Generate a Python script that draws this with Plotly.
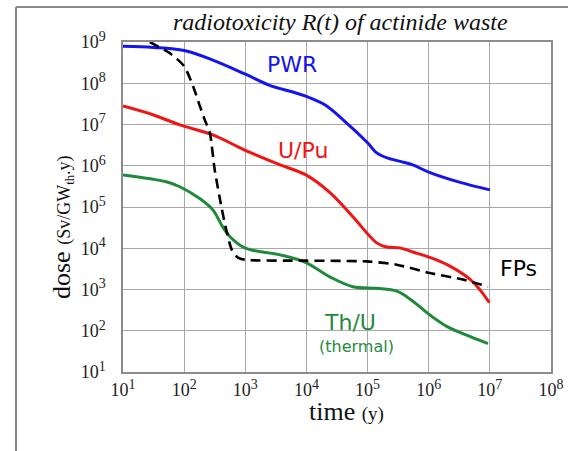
import plotly.graph_objects as go

# time (years) and dose (Sv/GWth.y)
pwr_t = [10, 31.6, 100, 316, 1000, 2510, 5620, 1e4, 2e4, 3.98e4, 1e5, 1.41e5, 2.09e5, 3.55e5, 5.5e5, 1e6, 3.16e6, 1e7]
pwr_d = [7.9e8, 7.4e8, 6.2e8, 3.5e8, 1.66e8, 8.9e7, 6.3e7, 4.8e7, 3.0e7, 1.3e7, 3.6e6, 2.05e6, 1.55e6, 1.26e6, 1.05e6, 7.0e5, 4.0e5, 2.6e5]

upu_t = [10, 31.6, 85, 295, 980, 3720, 9800, 2.45e4, 5.75e4, 1.41e5, 2.04e5, 3.39e5, 5.5e5, 9.8e5, 2.0e6, 4.8e6, 6.9e6, 9.8e6]
upu_d = [2.8e7, 1.7e7, 9.8e6, 5.6e6, 2.4e6, 1.05e6, 6.0e5, 2.2e5, 5.8e4, 1.35e4, 1.07e4, 1.02e4, 8.1e3, 6.2e3, 4.0e3, 1.74e3, 9.8e2, 4.8e2]

thu_t = [10, 51, 85, 182, 295, 427, 562, 980, 3720, 9800, 2.45e4, 5.75e4, 1.41e5, 3.02e5, 5.5e5, 1.05e6, 2.0e6, 4.8e6, 9.3e6]
thu_d = [6.0e5, 4.1e5, 3.1e5, 1.58e5, 8.5e4, 3.3e4, 1.9e4, 1.02e4, 6.9e3, 4.5e3, 2.0e3, 1.17e3, 1.07e3, 9.1e2, 5.2e2, 2.4e2, 1.26e2, 7.2e1, 4.9e1]

fps_t = [27.5, 60, 100, 140, 178, 219, 263, 316, 407, 490, 603, 759, 1050, 9800, 9.8e4, 3.0e5, 1.05e6, 3.63e6, 9.3e6]
fps_d = [1.0e9, 5.2e8, 2.6e8, 8.5e7, 3.0e7, 1.26e7, 6.3e6, 8.0e5, 1.0e5, 2.75e4, 9.1e3, 5.9e3, 5.2e3, 5.0e3, 4.8e3, 4.0e3, 2.5e3, 1.74e3, 1.17e3]

x_ticks = [10, 100, 1e3, 1e4, 1e5, 1e6, 1e7, 1e8]
y_ticks = [10, 100, 1e3, 1e4, 1e5, 1e6, 1e7, 1e8, 1e9]
exponents_x = ["1", "2", "3", "4", "5", "6", "7", "8"]
exponents_y = ["1", "2", "3", "4", "5", "6", "7", "8", "9"]


def pow_label(e):
    return "10<sup><span style='font-size:14px'>" + e + "</span></sup>"


x_labels = [pow_label(e) for e in exponents_x]
y_labels = [pow_label(e) for e in exponents_y]

BLUE = "#1414f0"
RED = "#f01414"
GREEN = "#1f8a3c"
SERIF = "Liberation Serif"
CASUAL = "DejaVu Sans"

fig = go.Figure()
fig.add_trace(go.Scatter(x=pwr_t, y=pwr_d, mode="lines", line=dict(color=BLUE, width=3, shape="spline", smoothing=1.0), name="PWR"))
fig.add_trace(go.Scatter(x=upu_t, y=upu_d, mode="lines", line=dict(color=RED, width=3, shape="spline", smoothing=1.0), name="U/Pu"))
fig.add_trace(go.Scatter(x=thu_t, y=thu_d, mode="lines", line=dict(color=GREEN, width=3, shape="spline", smoothing=1.0), name="Th/U"))
fig.add_trace(go.Scatter(x=fps_t, y=fps_d, mode="lines", line=dict(color="black", width=2.6, dash="10px,6px", shape="spline", smoothing=0.6), name="FPs"))

grid = "#a8a8a8"
fig.update_xaxes(type="log", range=[1, 8], tickvals=x_ticks, ticktext=x_labels,
                 showgrid=True, gridcolor=grid, gridwidth=1, automargin=False,
                 showline=True, linecolor="#8c8c8c", linewidth=1.5, mirror=True,
                 ticks="", zeroline=False, ticklabelstandoff=1,
                 tickfont=dict(family=SERIF, size=18, color="#222"))
fig.update_yaxes(type="log", range=[1, 9], tickvals=y_ticks, ticktext=y_labels,
                 showgrid=True, gridcolor=grid, gridwidth=1, automargin=False,
                 showline=True, linecolor="#8c8c8c", linewidth=1.5, mirror=True,
                 ticks="", zeroline=False, ticklabelstandoff=12,
                 tickfont=dict(family=SERIF, size=18, color="#222"))

W, H = 568, 451
L, R, T, B = 123, 17, 42, 79
pw, ph = W - L - R, H - T - B


def px(x):
    return (x - L) / pw


def py(y):
    return (H - B - y) / ph


annots = [
    dict(text="PWR", x=292, y=64, color=BLUE, size=22),
    dict(text="U/Pu", x=303, y=150, color=RED, size=22),
    dict(text="FPs", x=518, y=268, color="black", size=22),
    dict(text="Th/U", x=350, y=322, color=GREEN, size=22),
    dict(text="(thermal)", x=356, y=346, color=GREEN, size=16),
]
for a in annots:
    fig.add_annotation(text=a["text"], xref="paper", yref="paper",
                       x=px(a["x"]), y=py(a["y"]),
                       xanchor="center", yanchor="middle", showarrow=False,
                       font=dict(family=CASUAL, size=a["size"], color=a["color"]))

fig.add_annotation(text="<i>radiotoxicity R(t) of actinide waste</i>", xref="paper", yref="paper",
                   x=px(340), y=py(22), xanchor="center", yanchor="middle",
                   showarrow=False, font=dict(family=SERIF, size=24, color="#111"))
fig.add_annotation(text="time <span style='font-size:19px'>(y)</span>", xref="paper", yref="paper",
                   x=px(346), y=py(412), xanchor="center", yanchor="middle",
                   showarrow=False, font=dict(family=SERIF, size=26, color="#111"))
fig.add_annotation(text="dose <span style='font-size:18px'>(Sv/GW<sub>th</sub>.y)</span>",
                   xref="paper", yref="paper", x=px(62), y=py(228), textangle=-90,
                   xanchor="center", yanchor="middle",
                   showarrow=False, font=dict(family=SERIF, size=26, color="#111"))

# outer frame (left and top edges)
fig.add_shape(type="line", xref="paper", yref="paper", x0=px(16), x1=px(16), y0=py(7), y1=py(460),
              line=dict(color="#8a8a8a", width=2))
fig.add_shape(type="line", xref="paper", yref="paper", x0=px(16), x1=px(W + 5), y0=py(7), y1=py(7),
              line=dict(color="#8a8a8a", width=2))

fig.update_layout(width=W, height=H, margin=dict(l=L, r=R, t=T, b=B),
                  paper_bgcolor="white", plot_bgcolor="white", showlegend=False)
fig.write_html("out.html")
